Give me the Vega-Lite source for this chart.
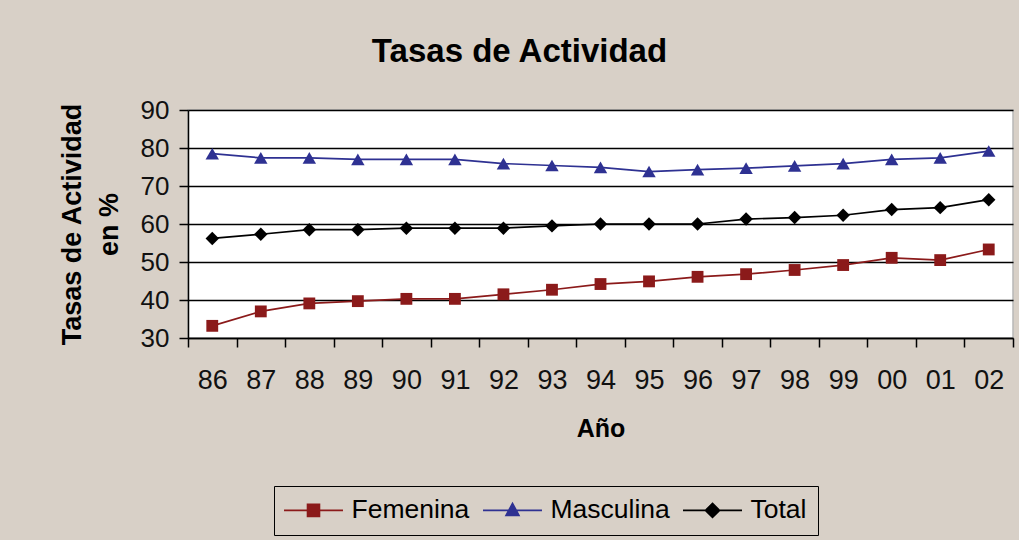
{
  "$schema": "https://vega.github.io/schema/vega-lite/v6.json",
  "width": 825,
  "height": 228,
  "autosize": "none",
  "padding": {"left": 188, "top": 110, "right": 6, "bottom": 202},
  "background": "#D8D0C7",
  "title": {
    "text": "Tasas de Actividad",
    "font": "Liberation Sans",
    "fontSize": 33,
    "fontWeight": "bold",
    "color": "#000000",
    "anchor": "middle",
    "frame": "group",
    "baseline": "alphabetic",
    "dx": -81,
    "offset": 2
  },
  "config": {
    "font": "Liberation Sans",
    "view": {"fill": "white", "stroke": "#b8b8b8", "strokeWidth": 1.5}
  },
  "data": {
    "values": [
      {"year": "86", "i": 0, "serie": "Femenina", "v": 33.2},
      {"year": "87", "i": 1, "serie": "Femenina", "v": 37.0},
      {"year": "88", "i": 2, "serie": "Femenina", "v": 39.1},
      {"year": "89", "i": 3, "serie": "Femenina", "v": 39.7},
      {"year": "90", "i": 4, "serie": "Femenina", "v": 40.3},
      {"year": "91", "i": 5, "serie": "Femenina", "v": 40.3},
      {"year": "92", "i": 6, "serie": "Femenina", "v": 41.5},
      {"year": "93", "i": 7, "serie": "Femenina", "v": 42.7},
      {"year": "94", "i": 8, "serie": "Femenina", "v": 44.2},
      {"year": "95", "i": 9, "serie": "Femenina", "v": 44.9},
      {"year": "96", "i": 10, "serie": "Femenina", "v": 46.1},
      {"year": "97", "i": 11, "serie": "Femenina", "v": 46.8},
      {"year": "98", "i": 12, "serie": "Femenina", "v": 47.9},
      {"year": "99", "i": 13, "serie": "Femenina", "v": 49.2},
      {"year": "00", "i": 14, "serie": "Femenina", "v": 51.1},
      {"year": "01", "i": 15, "serie": "Femenina", "v": 50.5},
      {"year": "02", "i": 16, "serie": "Femenina", "v": 53.3},
      {"year": "86", "i": 0, "serie": "Masculina", "v": 78.5},
      {"year": "87", "i": 1, "serie": "Masculina", "v": 77.4},
      {"year": "88", "i": 2, "serie": "Masculina", "v": 77.4},
      {"year": "89", "i": 3, "serie": "Masculina", "v": 77.0},
      {"year": "90", "i": 4, "serie": "Masculina", "v": 77.0},
      {"year": "91", "i": 5, "serie": "Masculina", "v": 77.0},
      {"year": "92", "i": 6, "serie": "Masculina", "v": 75.9},
      {"year": "93", "i": 7, "serie": "Masculina", "v": 75.4},
      {"year": "94", "i": 8, "serie": "Masculina", "v": 74.9},
      {"year": "95", "i": 9, "serie": "Masculina", "v": 73.8},
      {"year": "96", "i": 10, "serie": "Masculina", "v": 74.3},
      {"year": "97", "i": 11, "serie": "Masculina", "v": 74.7},
      {"year": "98", "i": 12, "serie": "Masculina", "v": 75.3},
      {"year": "99", "i": 13, "serie": "Masculina", "v": 75.9},
      {"year": "00", "i": 14, "serie": "Masculina", "v": 77.0},
      {"year": "01", "i": 15, "serie": "Masculina", "v": 77.4},
      {"year": "02", "i": 16, "serie": "Masculina", "v": 79.2},
      {"year": "86", "i": 0, "serie": "Total", "v": 56.2},
      {"year": "87", "i": 1, "serie": "Total", "v": 57.3},
      {"year": "88", "i": 2, "serie": "Total", "v": 58.5},
      {"year": "89", "i": 3, "serie": "Total", "v": 58.5},
      {"year": "90", "i": 4, "serie": "Total", "v": 58.9},
      {"year": "91", "i": 5, "serie": "Total", "v": 58.9},
      {"year": "92", "i": 6, "serie": "Total", "v": 58.9},
      {"year": "93", "i": 7, "serie": "Total", "v": 59.5},
      {"year": "94", "i": 8, "serie": "Total", "v": 60.0},
      {"year": "95", "i": 9, "serie": "Total", "v": 60.0},
      {"year": "96", "i": 10, "serie": "Total", "v": 60.0},
      {"year": "97", "i": 11, "serie": "Total", "v": 61.3},
      {"year": "98", "i": 12, "serie": "Total", "v": 61.7},
      {"year": "99", "i": 13, "serie": "Total", "v": 62.3},
      {"year": "00", "i": 14, "serie": "Total", "v": 63.8},
      {"year": "01", "i": 15, "serie": "Total", "v": 64.3},
      {"year": "02", "i": 16, "serie": "Total", "v": 66.4}
    ]
  },
  "encoding": {
    "x": {
      "field": "year",
      "type": "ordinal",
      "sort": null,
      "scale": {"type": "band", "paddingInner": 0, "paddingOuter": 0},
      "axis": {
        "title": "Año",
        "titleFont": "Liberation Sans",
        "titleFontSize": 25,
        "titleFontWeight": "bold",
        "titleColor": "#000000",
        "titlePadding": 23,
        "labelAngle": 0,
        "labelFont": "Liberation Sans",
        "labelFontSize": 27,
        "labelColor": "#111111",
        "labelPadding": 20,
        "tickBand": "extent",
        "tickSize": 9,
        "tickWidth": 1.5,
        "tickColor": "#000000",
        "domainColor": "#000000",
        "domainWidth": 1.5,
        "grid": false
      }
    },
    "y": {
      "field": "v",
      "type": "quantitative",
      "scale": {"domain": [30, 90], "nice": false, "zero": false},
      "axis": {
        "values": [30, 40, 50, 60, 70, 80, 90],
        "title": ["Tasas de Actividad", "en %"],
        "titleFont": "Liberation Sans",
        "titleFontSize": 27,
        "titleFontWeight": "bold",
        "titleColor": "#000000",
        "titleLineHeight": 37,
        "titlePadding": 17,
        "labelFont": "Liberation Sans",
        "labelFontSize": 26,
        "labelColor": "#111111",
        "labelPadding": 10,
        "tickSize": 9,
        "tickWidth": 1.5,
        "tickColor": "#000000",
        "domainColor": "#000000",
        "domainWidth": 1.5,
        "grid": true,
        "gridColor": "#000000",
        "gridWidth": 1.4,
        "gridOpacity": 1
      }
    },
    "color": {
      "field": "serie",
      "type": "nominal",
      "scale": {"domain": ["Femenina", "Masculina", "Total"], "range": ["#8B1A1A", "#2E3192", "#000000"]},
      "legend": {
        "orient": "none",
        "legendX": 86,
        "legendY": 376,
        "direction": "horizontal",
        "title": null,
        "symbolSize": 484,
        "symbolType": "M-1,0H1",
        "symbolStrokeWidth": 1.6,
        "labelFont": "Liberation Sans",
        "labelFontSize": 26.5,
        "labelColor": "#000000",
        "labelOffset": 40,
        "columnPadding": 9,
        "padding": 11,
        "strokeColor": "#000000",
        "fillColor": "#D8D0C7",
        "encode": {
          "symbols": {
            "update": {
              "shape": {"signal": "datum.value === 'Femenina' ? 'M-2.68,0H2.68M-0.545,-0.545H0.545V0.545H-0.545Z' : (datum.value === 'Masculina' ? 'M-2.68,0H2.68M0,-0.64L0.59,0.45H-0.59Z' : 'M-2.68,0H2.68M0,-0.64L0.64,0L0,0.64L-0.64,0Z')"},
              "size": {"value": 484},
              "x": {"value": 28.5},
              "fill": {"signal": "scale('color', datum.value)"},
              "stroke": {"signal": "scale('color', datum.value)"},
              "fillOpacity": {"value": 1},
              "strokeOpacity": {"value": 1},
              "strokeWidth": {"value": 1.6}
            }
          }
        }
      }
    }
  },
  "layer": [
    {
      "mark": {"type": "line", "strokeWidth": 1.7},
      "encoding": {"order": {"field": "i", "type": "quantitative"}}
    },
    {
      "transform": [{"filter": "datum.serie === 'Femenina'"}],
      "mark": {"type": "point", "shape": "square", "size": 140, "filled": true, "opacity": 1}
    },
    {
      "transform": [{"filter": "datum.serie === 'Masculina'"}],
      "mark": {"type": "point", "shape": "triangle-up", "size": 180, "filled": true, "opacity": 1}
    },
    {
      "transform": [{"filter": "datum.serie === 'Total'"}],
      "mark": {"type": "point", "shape": "diamond", "size": 180, "filled": true, "opacity": 1}
    }
  ]
}
